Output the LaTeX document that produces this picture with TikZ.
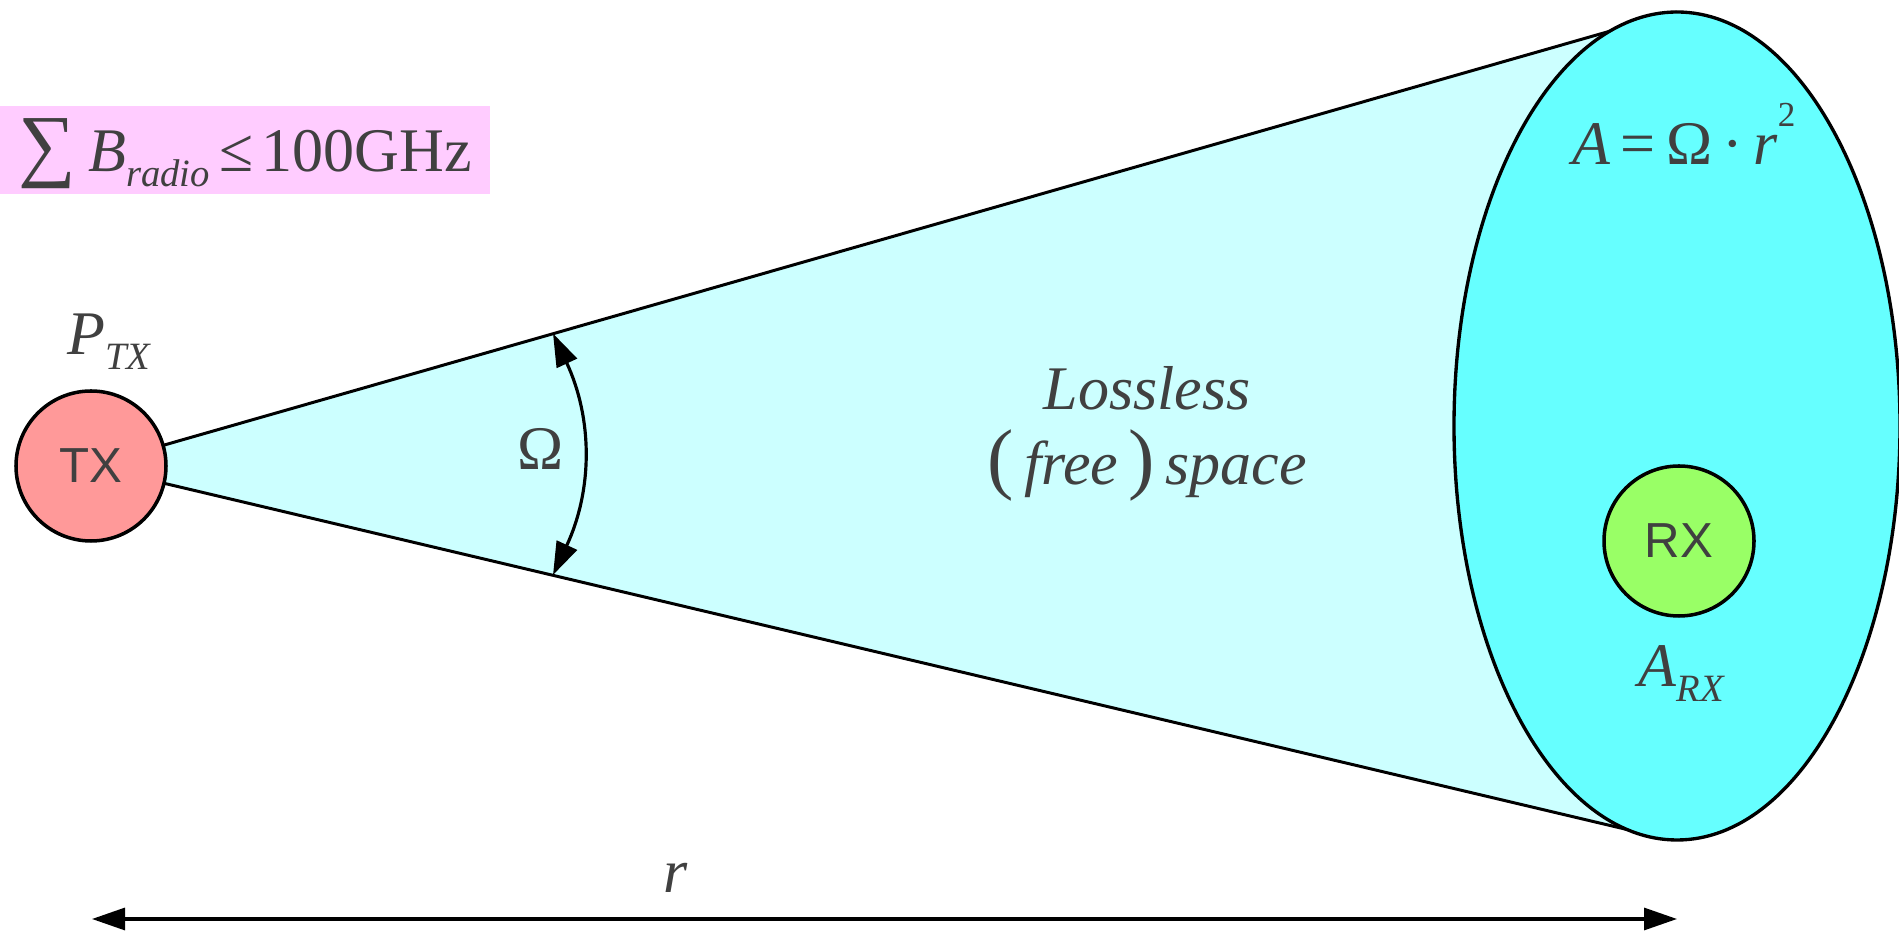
\documentclass[tikz,border=0pt]{standalone}
\usepackage{fontspec}
\setmainfont{Liberation Serif}
\newfontfamily\arialfont{Liberation Sans}
\usetikzlibrary{arrows.meta,shapes.geometric}
\definecolor{txtgray}{HTML}{404040}
\definecolor{txpink}{HTML}{FF9999}
\definecolor{rxgreen}{HTML}{99FF66}
\definecolor{conecyan}{HTML}{CCFFFF}
\definecolor{apercyan}{HTML}{66FFFF}
\definecolor{bandpink}{HTML}{FFCCFF}
\newcommand{\lowsub}[1]{\raisebox{-0.24em}{\fontsize{22pt}{22pt}\selectfont\itshape #1}}
\newcommand{\powr}[1]{\raisebox{0.62em}{\fontsize{20pt}{20pt}\selectfont #1}}
\newcommand{\bigpar}[1]{{\fontsize{45pt}{45pt}\selectfont #1}}
\begin{document}
\begin{tikzpicture}[
    lbl/.style={font=\fontsize{35.3pt}{40pt}\selectfont, text=txtgray, inner sep=0pt},
    station/.style={circle, draw, line width=2pt, minimum size=3cm, inner sep=0pt,
      font=\arialfont\fontsize{28pt}{32pt}\selectfont, text=txtgray},
    edge/.style={line width=1.7pt},
    dimtip/.style={line width=1.8pt,
      {Triangle[length=6.6mm,width=4.4mm]}-{Triangle[length=6.6mm,width=4.4mm]}}]
    \useasboundingbox (0,0) rectangle (37.98,18.62);
    \coordinate (apex) at (1.82,9.30);
    \coordinate (conetop) at (33.54,18.38);
    \coordinate (conebot) at (33.30,1.85);
    \fill[conecyan] (apex) -- (conetop) -- (conebot) -- cycle;
    \draw[edge] (apex) -- (conetop);
    \draw[edge] (apex) -- (conebot);
    \node[ellipse, draw, line width=1.9pt, fill=apercyan, minimum width=8.92cm,
      minimum height=16.56cm, inner sep=0pt] (aper) at (33.54,10.10) {};
    \foreach \nm/\x/\y/\col/\lab in {tx/1.82/9.30/txpink/TX, rx/33.58/7.80/rxgreen/RX}
      \node[station, fill=\col] (\nm) at (\x,\y) {\lab};
    \node[lbl, fill=bandpink, inner xsep=0pt, text height=1.32cm, text depth=0.44cm,
      minimum width=9.8cm, anchor=base west] (band) at (0,15.18)
      {{\fontsize{46pt}{46pt}\selectfont ∑}\hspace{0.24cm}\textit{B}\lowsub{radio}\hspace{0.2cm}≤\hspace{0.16cm}100GHz\hspace{0.1cm}};
    \node[lbl, anchor=base west] (ptx) at (1.34,11.52) {\textit{P}\lowsub{TX}};
    \node[lbl, anchor=base west] (arx) at (32.76,4.88) {\textit{A}\lowsub{RX}};
    \node[lbl, anchor=base west] (area) at (31.44,15.32) {\textit{A}\,=\,Ω\,·\,\textit{r}\powr{2}};
    \node[lbl, anchor=base] (lossless) at (22.94,10.42) {\textit{Lossless}};
    \node[lbl, anchor=base] (freespace) at (22.94,8.92)
      {\bigpar{(}\,\textit{free}\,\bigpar{)}\,\textit{space}};
    \node[lbl, anchor=base] (omega) at (10.82,9.22) {Ω};
    \node[lbl, anchor=base west] (rlabel) at (13.26,0.76) {\textit{r}};
    \coordinate (omtop) at (11.06,11.95);
    \coordinate (ombot) at (11.06,7.12);
    \draw[dimtip] (omtop) to[bend left=25] (ombot);
    \coordinate (rleft) at (1.84,0.24);
    \coordinate (rright) at (33.54,0.24);
    \draw[dimtip] (rleft) -- (rright);
\end{tikzpicture}
\end{document}
